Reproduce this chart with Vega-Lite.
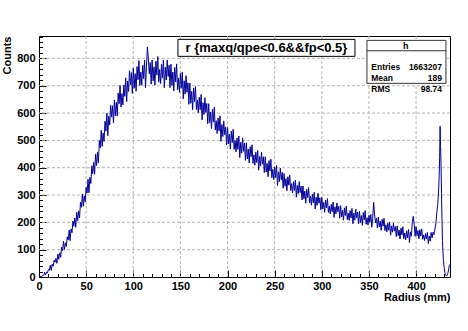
{
  "$schema": "https://vega.github.io/schema/vega-lite/v6.json",
  "width": 411,
  "height": 241,
  "autosize": {"type": "none"},
  "padding": {"left": 39, "top": 36, "right": 18, "bottom": 54},
  "background": "white",
  "config": {"view": {"stroke": "black", "strokeWidth": 1}},
  "resolve": {"axis": {"x": "independent", "y": "independent"}},
  "layer": [
    {
      "data": {"values": [{"gx": 50}, {"gx": 100}, {"gx": 150}, {"gx": 200}, {"gx": 250}, {"gx": 300}, {"gx": 350}, {"gx": 400}]},
      "mark": {"type": "rule", "color": "#b4b4b4", "strokeWidth": 1, "strokeDash": [3, 2]},
      "encoding": {
        "x": {"field": "gx", "type": "quantitative", "axis": null}
      }
    },
    {
      "data": {"values": [{"gy": 100}, {"gy": 200}, {"gy": 300}, {"gy": 400}, {"gy": 500}, {"gy": 600}, {"gy": 700}, {"gy": 800}]},
      "mark": {"type": "rule", "color": "#b4b4b4", "strokeWidth": 1, "strokeDash": [3, 2]},
      "encoding": {
        "y": {"field": "gy", "type": "quantitative", "axis": null}
      }
    },
    {
      "data": {"values": [
{"r":0,"n":0},{"r":1,"n":0},{"r":2,"n":3},{"r":3,"n":2},{"r":4,"n":7},{"r":5,"n":6},{"r":6,"n":17},{"r":7,"n":8},{"r":8,"n":18},{"r":9,"n":15},
{"r":10,"n":28},{"r":11,"n":25},{"r":12,"n":43},{"r":13,"n":24},{"r":14,"n":47},{"r":15,"n":39},{"r":16,"n":61},{"r":17,"n":54},{"r":18,"n":68},{"r":19,"n":50},
{"r":20,"n":84},{"r":21,"n":65},{"r":22,"n":89},{"r":23,"n":72},{"r":24,"n":109},{"r":25,"n":96},{"r":26,"n":131},{"r":27,"n":101},{"r":28,"n":125},{"r":29,"n":112},
{"r":30,"n":147},{"r":31,"n":135},{"r":32,"n":172},{"r":33,"n":133},{"r":34,"n":176},{"r":35,"n":162},{"r":36,"n":205},{"r":37,"n":186},{"r":38,"n":216},{"r":39,"n":182},
{"r":40,"n":237},{"r":41,"n":206},{"r":42,"n":242},{"r":43,"n":216},{"r":44,"n":273},{"r":45,"n":255},{"r":46,"n":304},{"r":47,"n":259},{"r":48,"n":297},{"r":49,"n":275},
{"r":50,"n":328},{"r":51,"n":307},{"r":52,"n":358},{"r":53,"n":308},{"r":54,"n":365},{"r":55,"n":342},{"r":56,"n":407},{"r":57,"n":378},{"r":58,"n":420},{"r":59,"n":376},
{"r":60,"n":449},{"r":61,"n":408},{"r":62,"n":456},{"r":63,"n":418},{"r":64,"n":499},{"r":65,"n":472},{"r":66,"n":537},{"r":67,"n":478},{"r":68,"n":527},{"r":69,"n":496},
{"r":70,"n":570},{"r":71,"n":534},{"r":72,"n":599},{"r":73,"n":517},{"r":74,"n":589},{"r":75,"n":556},{"r":76,"n":628},{"r":77,"n":585},{"r":78,"n":627},{"r":79,"n":564},
{"r":80,"n":648},{"r":81,"n":590},{"r":82,"n":639},{"r":83,"n":589},{"r":84,"n":673},{"r":85,"n":634},{"r":86,"n":701},{"r":87,"n":622},{"r":88,"n":671},{"r":89,"n":630},
{"r":90,"n":703},{"r":91,"n":661},{"r":92,"n":729},{"r":93,"n":642},{"r":94,"n":717},{"r":95,"n":679},{"r":96,"n":755},{"r":97,"n":703},{"r":98,"n":748},{"r":99,"n":672},
{"r":100,"n":764},{"r":101,"n":691},{"r":102,"n":744},{"r":103,"n":680},{"r":104,"n":770},{"r":105,"n":722},{"r":106,"n":792},{"r":107,"n":701},{"r":108,"n":750},{"r":109,"n":702},
{"r":110,"n":775},{"r":111,"n":726},{"r":112,"n":794},{"r":113,"n":693},{"r":114,"n":770},{"r":115,"n":842},{"r":116,"n":800},{"r":117,"n":743},{"r":118,"n":785},{"r":119,"n":706},
{"r":120,"n":794},{"r":121,"n":718},{"r":122,"n":769},{"r":123,"n":702},{"r":124,"n":790},{"r":125,"n":739},{"r":126,"n":807},{"r":127,"n":713},{"r":128,"n":759},{"r":129,"n":708},
{"r":130,"n":779},{"r":131,"n":728},{"r":132,"n":794},{"r":133,"n":693},{"r":134,"n":768},{"r":135,"n":721},{"r":136,"n":794},{"r":137,"n":734},{"r":138,"n":775},{"r":139,"n":693},
{"r":140,"n":779},{"r":141,"n":701},{"r":142,"n":750},{"r":143,"n":681},{"r":144,"n":767},{"r":145,"n":714},{"r":146,"n":780},{"r":147,"n":685},{"r":148,"n":728},{"r":149,"n":676},
{"r":150,"n":745},{"r":151,"n":691},{"r":152,"n":750},{"r":153,"n":652},{"r":154,"n":718},{"r":155,"n":669},{"r":156,"n":737},{"r":157,"n":676},{"r":158,"n":711},{"r":159,"n":632},
{"r":160,"n":710},{"r":161,"n":636},{"r":162,"n":679},{"r":163,"n":612},{"r":164,"n":692},{"r":165,"n":642},{"r":166,"n":697},{"r":167,"n":613},{"r":168,"n":648},{"r":169,"n":601},
{"r":170,"n":658},{"r":171,"n":612},{"r":172,"n":668},{"r":173,"n":575},{"r":174,"n":638},{"r":175,"n":595},{"r":176,"n":656},{"r":177,"n":602},{"r":178,"n":635},{"r":179,"n":561},
{"r":180,"n":634},{"r":181,"n":565},{"r":182,"n":604},{"r":183,"n":543},{"r":184,"n":614},{"r":185,"n":567},{"r":186,"n":622},{"r":187,"n":538},{"r":188,"n":572},{"r":189,"n":525},
{"r":190,"n":582},{"r":191,"n":535},{"r":192,"n":590},{"r":193,"n":496},{"r":194,"n":558},{"r":195,"n":514},{"r":196,"n":571},{"r":197,"n":521},{"r":198,"n":548},{"r":199,"n":484},
{"r":200,"n":547},{"r":201,"n":487},{"r":202,"n":523},{"r":203,"n":468},{"r":204,"n":534},{"r":205,"n":492},{"r":206,"n":541},{"r":207,"n":467},{"r":208,"n":500},{"r":209,"n":458},
{"r":210,"n":509},{"r":211,"n":467},{"r":212,"n":516},{"r":213,"n":437},{"r":214,"n":493},{"r":215,"n":453},{"r":216,"n":509},{"r":217,"n":460},{"r":218,"n":490},{"r":219,"n":427},
{"r":220,"n":491},{"r":221,"n":432},{"r":222,"n":468},{"r":223,"n":417},{"r":224,"n":477},{"r":225,"n":440},{"r":226,"n":484},{"r":227,"n":416},{"r":228,"n":447},{"r":229,"n":409},
{"r":230,"n":457},{"r":231,"n":419},{"r":232,"n":463},{"r":233,"n":391},{"r":234,"n":441},{"r":235,"n":406},{"r":236,"n":456},{"r":237,"n":413},{"r":238,"n":440},{"r":239,"n":382},
{"r":240,"n":440},{"r":241,"n":384},{"r":242,"n":416},{"r":243,"n":367},{"r":244,"n":426},{"r":245,"n":388},{"r":246,"n":431},{"r":247,"n":363},{"r":248,"n":394},{"r":249,"n":356},
{"r":250,"n":403},{"r":251,"n":364},{"r":252,"n":408},{"r":253,"n":335},{"r":254,"n":385},{"r":255,"n":349},{"r":256,"n":399},{"r":257,"n":356},{"r":258,"n":383},{"r":259,"n":325},
{"r":260,"n":379},{"r":261,"n":332},{"r":262,"n":360},{"r":263,"n":316},{"r":264,"n":367},{"r":265,"n":336},{"r":266,"n":373},{"r":267,"n":316},{"r":268,"n":342},{"r":269,"n":308},
{"r":270,"n":349},{"r":271,"n":316},{"r":272,"n":355},{"r":273,"n":292},{"r":274,"n":335},{"r":275,"n":305},{"r":276,"n":349},{"r":277,"n":309},{"r":278,"n":333},{"r":279,"n":282},
{"r":280,"n":333},{"r":281,"n":286},{"r":282,"n":314},{"r":283,"n":270},{"r":284,"n":321},{"r":285,"n":290},{"r":286,"n":327},{"r":287,"n":271},{"r":288,"n":296},{"r":289,"n":263},
{"r":290,"n":304},{"r":291,"n":271},{"r":292,"n":310},{"r":293,"n":249},{"r":294,"n":292},{"r":295,"n":262},{"r":296,"n":306},{"r":297,"n":270},{"r":298,"n":290},{"r":299,"n":246},
{"r":300,"n":291},{"r":301,"n":249},{"r":302,"n":273},{"r":303,"n":237},{"r":304,"n":282},{"r":305,"n":253},{"r":306,"n":287},{"r":307,"n":236},{"r":308,"n":259},{"r":309,"n":231},
{"r":310,"n":266},{"r":311,"n":239},{"r":312,"n":274},{"r":313,"n":218},{"r":314,"n":257},{"r":315,"n":231},{"r":316,"n":271},{"r":317,"n":239},{"r":318,"n":259},{"r":319,"n":215},
{"r":320,"n":261},{"r":321,"n":220},{"r":322,"n":244},{"r":323,"n":208},{"r":324,"n":253},{"r":325,"n":225},{"r":326,"n":260},{"r":327,"n":210},{"r":328,"n":234},{"r":329,"n":207},
{"r":330,"n":243},{"r":331,"n":216},{"r":332,"n":251},{"r":333,"n":195},{"r":334,"n":234},{"r":335,"n":208},{"r":336,"n":248},{"r":337,"n":216},{"r":338,"n":238},{"r":339,"n":194},
{"r":340,"n":240},{"r":341,"n":199},{"r":342,"n":225},{"r":343,"n":189},{"r":344,"n":236},{"r":345,"n":208},{"r":346,"n":243},{"r":347,"n":193},{"r":348,"n":217},{"r":349,"n":190},
{"r":350,"n":226},{"r":351,"n":200},{"r":352,"n":229},{"r":353,"n":182},{"r":354,"n":215},{"r":355,"n":273},{"r":356,"n":227},{"r":357,"n":198},{"r":358,"n":216},{"r":359,"n":179},
{"r":360,"n":219},{"r":361,"n":183},{"r":362,"n":204},{"r":363,"n":171},{"r":364,"n":211},{"r":365,"n":186},{"r":366,"n":215},{"r":367,"n":170},{"r":368,"n":191},{"r":369,"n":165},
{"r":370,"n":197},{"r":371,"n":171},{"r":372,"n":201},{"r":373,"n":153},{"r":374,"n":187},{"r":375,"n":164},{"r":376,"n":197},{"r":377,"n":168},{"r":378,"n":185},{"r":379,"n":148},
{"r":380,"n":187},{"r":381,"n":151},{"r":382,"n":172},{"r":383,"n":139},{"r":384,"n":179},{"r":385,"n":154},{"r":386,"n":184},{"r":387,"n":140},{"r":388,"n":161},{"r":389,"n":136},
{"r":390,"n":169},{"r":391,"n":144},{"r":392,"n":174},{"r":393,"n":126},{"r":394,"n":165},{"r":395,"n":149},{"r":396,"n":199},{"r":397,"n":222},{"r":398,"n":193},{"r":399,"n":149},
{"r":400,"n":184},{"r":401,"n":151},{"r":402,"n":170},{"r":403,"n":140},{"r":404,"n":173},{"r":405,"n":150},{"r":406,"n":176},{"r":407,"n":138},{"r":408,"n":154},{"r":409,"n":133},
{"r":410,"n":159},{"r":411,"n":139},{"r":412,"n":163},{"r":413,"n":122},{"r":414,"n":150},{"r":415,"n":131},{"r":416,"n":163},{"r":417,"n":143},{"r":418,"n":164},{"r":419,"n":155},
{"r":420,"n":176},{"r":421,"n":194},{"r":422,"n":236},{"r":423,"n":266},{"r":424,"n":322},{"r":424.5,"n":370},{"r":425,"n":436},{"r":425.5,"n":552},{"r":426,"n":478},{"r":426.5,"n":410},
{"r":427,"n":305},{"r":427.5,"n":212},{"r":428,"n":134},{"r":428.5,"n":92},{"r":429,"n":64},{"r":429.5,"n":44},{"r":430,"n":30},{"r":430.5,"n":17},{"r":431,"n":10},{"r":431.5,"n":6},
{"r":432,"n":5},{"r":432.5,"n":4},{"r":433,"n":8},{"r":433.5,"n":11},{"r":434,"n":18},{"r":434.5,"n":26},{"r":435,"n":37},{"r":435.5,"n":45}
      ]},
      "mark": {"type": "line", "color": "#000099", "strokeWidth": 1, "clip": true},
      "encoding": {
        "x": {
          "field": "r", "type": "quantitative",
          "scale": {"domain": [0, 436], "nice": false, "zero": false},
          "axis": {
            "orient": "bottom",
            "values": [0,10,20,30,40,50,60,70,80,90,100,110,120,130,140,150,160,170,180,190,200,210,220,230,240,250,260,270,280,290,300,310,320,330,340,350,360,370,380,390,400,410,420,430],
            "labelExpr": "datum.value % 50 === 0 ? datum.label : ''",
            "tickSize": {"condition": {"test": "datum.value % 50 === 0", "value": -7}, "value": -3.5},
            "tickColor": "black", "tickWidth": 1,
            "grid": false,
            "domain": false,
            "labelFont": "Liberation Sans", "labelFontWeight": "bold", "labelFontSize": 11, "labelColor": "black",
            "labelPadding": 10, "labelFlush": false, "labelOverlap": false, "labelBaseline": "top",
            "title": "Radius (mm)", "titleFont": "Liberation Sans", "titleFontWeight": "bold", "titleFontSize": 11, "titleColor": "black",
            "titleAnchor": "end", "titleAlign": "right", "titleBaseline": "alphabetic", "titleX": 411, "titleY": 23
          }
        },
        "y": {
          "field": "n", "type": "quantitative",
          "scale": {"domain": [0, 882], "nice": false, "zero": true},
          "axis": {
            "orient": "left",
            "values": [0,20,40,60,80,100,120,140,160,180,200,220,240,260,280,300,320,340,360,380,400,420,440,460,480,500,520,540,560,580,600,620,640,660,680,700,720,740,760,780,800,820,840,860,880],
            "labelExpr": "datum.value % 100 === 0 ? datum.label : ''",
            "tickSize": {"condition": {"test": "datum.value % 100 === 0", "value": -7}, "value": -3.5},
            "tickColor": "black", "tickWidth": 1,
            "grid": false,
            "domain": false,
            "labelFont": "Liberation Sans", "labelFontWeight": "bold", "labelFontSize": 11, "labelColor": "black",
            "labelPadding": 11, "labelFlush": false, "labelOverlap": false,
            "title": "Counts", "titleFont": "Liberation Sans", "titleFontWeight": "bold", "titleFontSize": 11, "titleColor": "black",
            "titleAngle": 270, "titleAnchor": "end", "titleAlign": "right", "titleBaseline": "middle", "titleX": -32, "titleY": 0
          }
        }
      }
    },
    {
      "data": {"values": [{}]},
      "mark": {"type": "rect", "fill": "white", "stroke": "black", "strokeWidth": 1},
      "encoding": {
        "x": {"datum": 147.4, "type": "quantitative", "axis": null},
        "x2": {"datum": 335.2},
        "y": {"datum": 869.7, "type": "quantitative", "axis": null},
        "y2": {"datum": 807.5}
      }
    },
    {
      "data": {"values": [{}]},
      "mark": {"type": "text", "text": "r {maxq/qpe<0.6&&fp<0.5}", "font": "Liberation Sans", "fontWeight": "bold", "fontSize": 13, "align": "center", "baseline": "alphabetic", "color": "black"},
      "encoding": {
        "x": {"datum": 241.3, "type": "quantitative", "axis": null},
        "y": {"datum": 824, "type": "quantitative", "axis": null}
      }
    },
    {
      "data": {"values": [{}]},
      "mark": {"type": "rect", "fill": "white", "stroke": "#333333", "strokeWidth": 1},
      "encoding": {
        "x": {"datum": 347.9, "type": "quantitative", "axis": null},
        "x2": {"datum": 431.7},
        "y": {"datum": 866, "type": "quantitative", "axis": null},
        "y2": {"datum": 708.7}
      }
    },
    {
      "data": {"values": [{}]},
      "mark": {"type": "rule", "stroke": "#333333", "strokeWidth": 1},
      "encoding": {
        "x": {"datum": 347.9, "type": "quantitative", "axis": null},
        "x2": {"datum": 431.7},
        "y": {"datum": 828, "type": "quantitative", "axis": null}
      }
    },
    {
      "data": {"values": [{}]},
      "mark": {"type": "text", "text": "h", "font": "Liberation Sans", "fontWeight": "bold", "fontSize": 9, "align": "center", "baseline": "middle", "color": "black"},
      "encoding": {
        "x": {"datum": 389, "type": "quantitative", "axis": null},
        "y": {"datum": 846, "type": "quantitative", "axis": null}
      }
    },
    {
      "data": {"values": [{}]},
      "mark": {"type": "text", "text": ["Entries", "Mean", "RMS"], "lineHeight": 10.7, "font": "Liberation Sans", "fontWeight": "bold", "fontSize": 8.5, "align": "left", "baseline": "middle", "color": "black"},
      "encoding": {
        "x": {"datum": 352.5, "type": "quantitative", "axis": null},
        "y": {"datum": 768, "type": "quantitative", "axis": null}
      }
    },
    {
      "data": {"values": [{}]},
      "mark": {"type": "text", "text": ["1663207", "189", "98.74"], "lineHeight": 10.7, "font": "Liberation Sans", "fontWeight": "bold", "fontSize": 8.5, "align": "right", "baseline": "middle", "color": "black"},
      "encoding": {
        "x": {"datum": 427.5, "type": "quantitative", "axis": null},
        "y": {"datum": 768, "type": "quantitative", "axis": null}
      }
    }
  ]
}
